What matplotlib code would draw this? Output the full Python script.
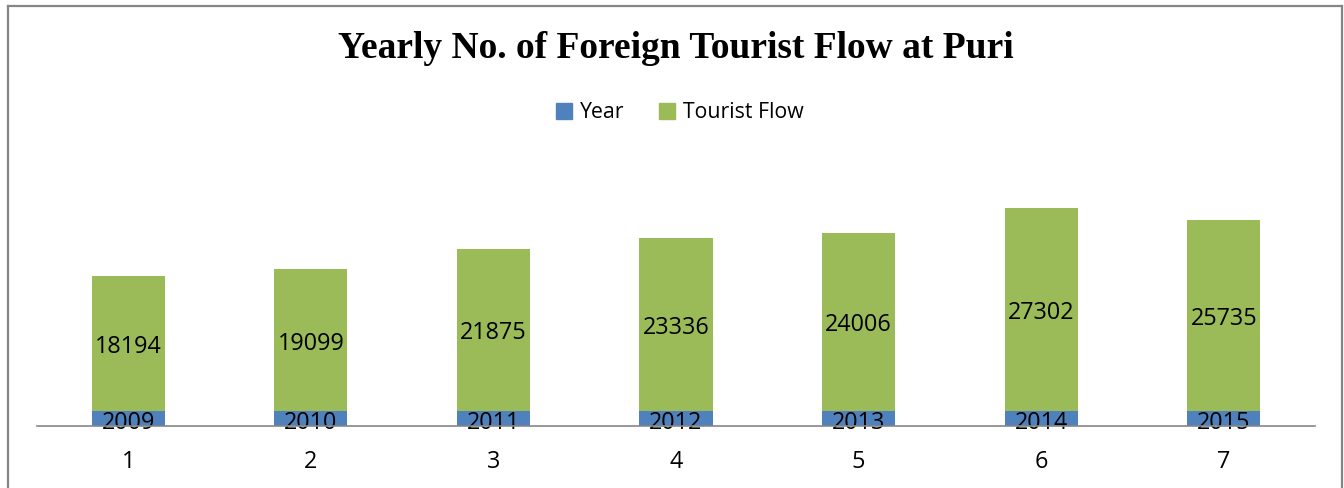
import matplotlib
matplotlib.use("Agg")
import matplotlib.pyplot as plt
from matplotlib.lines import Line2D
from matplotlib.patches import Patch

categories = [1, 2, 3, 4, 5, 6, 7]
years = [2009, 2010, 2011, 2012, 2013, 2014, 2015]
tourist_flow = [18194, 19099, 21875, 23336, 24006, 27302, 25735]

W, H = 1344, 488
fig = plt.figure(figsize=(W / 100, H / 100), dpi=100)
fig.patch.set_facecolor("white")

blue = "#4F81BD"
green = "#9BBB59"
grey = "#868686"
lab_font = ["Open Sans", "DejaVu Sans"]

ax = fig.add_axes([37 / W, 62 / H, (1315 - 37) / W, 260 / H])
ax.bar(categories, years, width=0.4, color=blue, label="Year", zorder=2)
ax.bar(categories, tourist_flow, width=0.4, bottom=years, color=green,
       label="Tourist Flow", zorder=2)

for x, y, t in zip(categories, years, tourist_flow):
    ax.annotate(str(y), (x, y / 2), xytext=(0, -3), textcoords="offset points",
                ha="center", va="center", fontsize=16.8, family=lab_font,
                color="black", zorder=3)
    ax.annotate(str(t), (x, y + t / 2), xytext=(0, -2.5), textcoords="offset points",
                ha="center", va="center", fontsize=16.8, family=lab_font,
                color="black", zorder=3)

ax.set_xlim(0.5, 7.5)
ax.set_ylim(0, 35000)
ax.set_xticks(categories)
ax.set_xticklabels([str(c) for c in categories], fontsize=16.8, family=lab_font)
ax.tick_params(axis="x", length=0, pad=17)
ax.set_yticks([])
for s in ["top", "right", "left"]:
    ax.spines[s].set_visible(False)
ax.spines["bottom"].set_color(grey)
ax.spines["bottom"].set_linewidth(1.2)
ax.spines["bottom"].set_zorder(4)

fig.text(676 / W, 1 - 49 / H, "Yearly No. of Foreign Tourist Flow at Puri",
         ha="center", va="center", fontsize=27, fontweight="bold",
         family="Liberation Serif")

handles = [Patch(color=blue, label="Year"), Patch(color=green, label="Tourist Flow")]
fig.legend(handles=handles, loc="center", bbox_to_anchor=(680 / W, 1 - 113 / H),
           ncol=2, frameon=False, prop={"family": lab_font, "size": 15.3},
           handlelength=0.75, handleheight=0.75, handletextpad=0.4,
           columnspacing=1.6)

# outer border (left, top, right)
fig.add_artist(Line2D([7.5 / W, 7.5 / W], [0, 1 - 5.5 / H], color=grey, lw=1.6,
                      transform=fig.transFigure))
fig.add_artist(Line2D([7.5 / W, 1342 / W], [1 - 5.5 / H, 1 - 5.5 / H], color=grey,
                      lw=1.6, transform=fig.transFigure))
fig.add_artist(Line2D([1342 / W, 1342 / W], [0, 1 - 5.5 / H], color=grey, lw=1.6,
                      transform=fig.transFigure))

fig.savefig("out.png", dpi=100, facecolor="white")
